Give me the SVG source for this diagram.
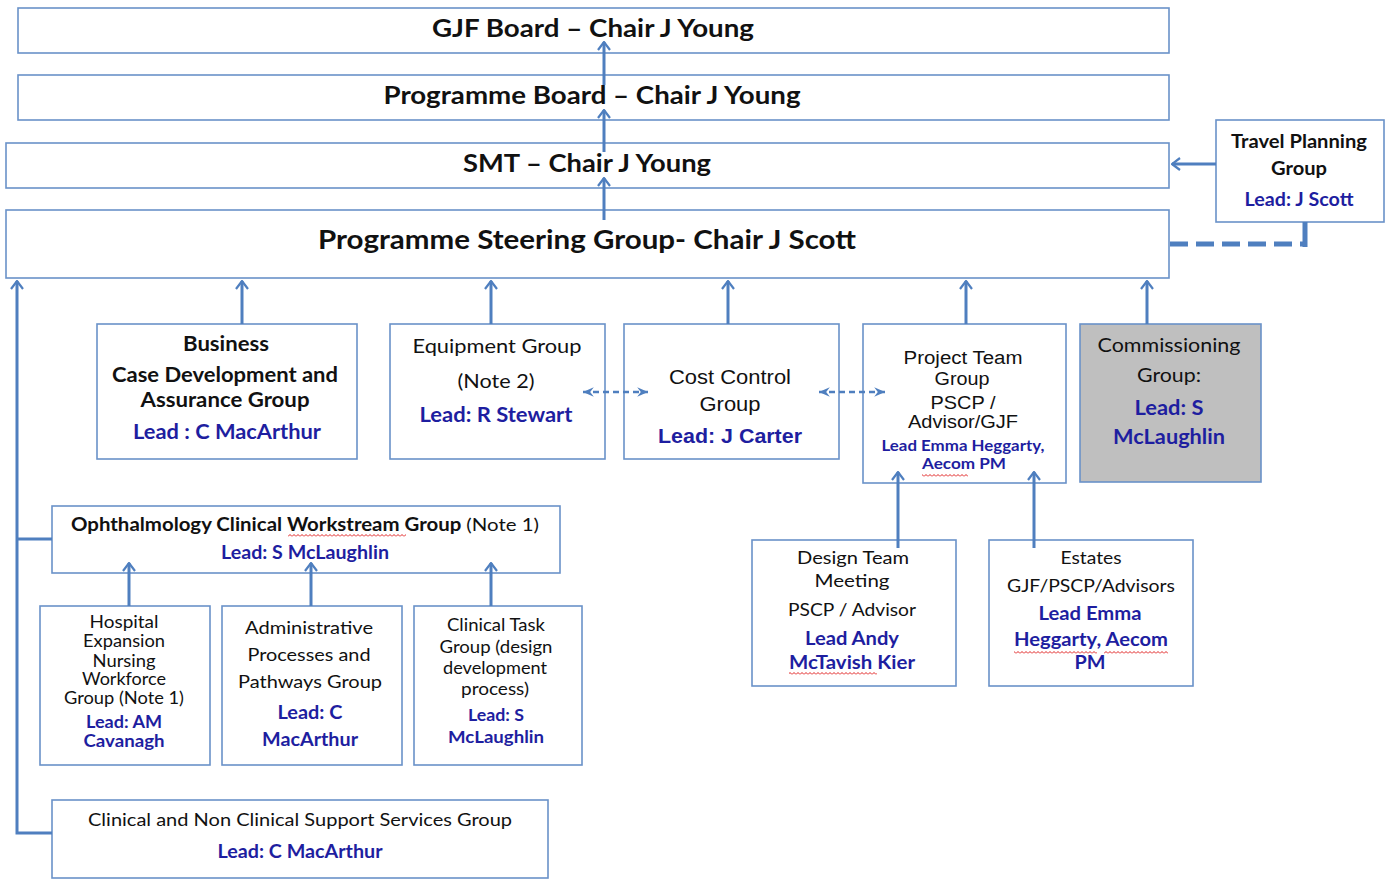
<svg xmlns="http://www.w3.org/2000/svg" width="1392" height="879" viewBox="0 0 1392 879">
<style>
.box{fill:#fff;stroke:#6a92c9;stroke-width:1.6}
.grey{fill:#bfbfbf;stroke:#6a92c9;stroke-width:1.6}
.con{fill:none;stroke:#4f7fbf;stroke-width:3}
.dash{fill:none;stroke:#4f7fbf;stroke-width:2.5;stroke-dasharray:6 4}
.thick{fill:none;stroke:#4f7fbf;stroke-width:5;stroke-dasharray:18 8}
text{dominant-baseline:central;text-anchor:middle;fill:#111}
.c{font-family:Lato,"Open Sans","Liberation Sans",sans-serif}
.a{font-family:"Liberation Sans",Arial,sans-serif}
.b{font-weight:bold}
.bl{fill:#1e1ea0;font-weight:bold}
</style>
<defs>
<marker id="arr" viewBox="0 0 10 14" refX="9" refY="7" markerWidth="10" markerHeight="14" markerUnits="userSpaceOnUse" orient="auto">
<path d="M1,1 L9,7 L1,13" fill="none" stroke="#4f7fbf" stroke-width="2.2"/>
</marker>
<marker id="sm" viewBox="0 0 10 10" refX="9" refY="5" markerWidth="12" markerHeight="12" markerUnits="userSpaceOnUse" orient="auto-start-reverse">
<path d="M0,1 L9,5 L0,9 L3,5 z" fill="#4f7fbf"/>
</marker>
<pattern id="wavy" width="4" height="3" patternUnits="userSpaceOnUse">
<polyline points="0,2.5 2,0.5 4,2.5" fill="none" stroke="#e02020" stroke-width="1"/>
</pattern>
</defs>

<g id="gjf-board">
<rect class="box" x="18" y="8" width="1151" height="45"/>
<text class="c b" x="593" y="27" font-size="24" textLength="322" lengthAdjust="spacingAndGlyphs">GJF  Board – Chair J Young</text>
</g>
<g id="programme-board">
<rect class="box" x="18" y="75" width="1151" height="45"/>
<text class="c b" x="592" y="94" font-size="24" textLength="417" lengthAdjust="spacingAndGlyphs">Programme Board – Chair J Young</text>
</g>
<g id="smt">
<rect class="box" x="6" y="143" width="1163" height="45"/>
<text class="c b" x="587" y="162" font-size="24" textLength="248" lengthAdjust="spacingAndGlyphs">SMT – Chair J Young</text>
</g>
<g id="steering-group">
<rect class="box" x="6" y="210" width="1163" height="68"/>
<text class="c b" x="587" y="238" font-size="27" textLength="538" lengthAdjust="spacingAndGlyphs">Programme Steering Group- Chair J Scott</text>
</g>
<g id="travel-planning">
<rect class="box" x="1216" y="120" width="168" height="102"/>
<text class="c b" x="1299" y="141" font-size="18" textLength="136" lengthAdjust="spacingAndGlyphs">Travel Planning</text>
<text class="c b" x="1299" y="168" font-size="18" textLength="56" lengthAdjust="spacingAndGlyphs">Group</text>
<text class="c bl" x="1299" y="199" font-size="18" textLength="109" lengthAdjust="spacingAndGlyphs">Lead: J Scott</text>
</g>

<g id="business-case">
<rect class="box" x="97" y="324" width="260" height="135"/>
<text class="c b" x="226" y="343" font-size="20" textLength="86" lengthAdjust="spacingAndGlyphs">Business</text>
<text class="c b" x="225" y="374" font-size="20" textLength="226" lengthAdjust="spacingAndGlyphs">Case Development and</text>
<text class="c b" x="225" y="399" font-size="20" textLength="169" lengthAdjust="spacingAndGlyphs">Assurance Group</text>
<text class="c bl" x="227" y="431" font-size="20" textLength="188" lengthAdjust="spacingAndGlyphs">Lead : C MacArthur</text>
</g>
<g id="equipment">
<rect class="box" x="390" y="324" width="215" height="135"/>
<text class="c" x="497" y="345" font-size="20" textLength="169" lengthAdjust="spacingAndGlyphs">Equipment  Group</text>
<text class="c" x="496" y="380" font-size="20" textLength="77" lengthAdjust="spacingAndGlyphs">(Note 2)</text>
<text class="c bl" x="496" y="414" font-size="20" textLength="153" lengthAdjust="spacingAndGlyphs">Lead: R Stewart</text>
</g>
<g id="cost-control">
<rect class="box" x="624" y="324" width="215" height="135"/>
<text class="a" x="730" y="377" font-size="20" textLength="122" lengthAdjust="spacingAndGlyphs">Cost Control</text>
<text class="a" x="730" y="404" font-size="20" textLength="61" lengthAdjust="spacingAndGlyphs">Group</text>
<text class="a bl" x="730" y="436" font-size="20" textLength="144" lengthAdjust="spacingAndGlyphs">Lead:  J Carter</text>
</g>
<g id="project-team">
<rect class="box" x="863" y="324" width="203" height="159"/>
<text class="a" x="963" y="358" font-size="18" textLength="119" lengthAdjust="spacingAndGlyphs">Project Team</text>
<text class="a" x="962" y="379" font-size="18" textLength="55" lengthAdjust="spacingAndGlyphs">Group</text>
<text class="a" x="963" y="402" font-size="19" textLength="65" lengthAdjust="spacingAndGlyphs">PSCP /</text>
<text class="a" x="963" y="421" font-size="19" textLength="110" lengthAdjust="spacingAndGlyphs">Advisor/GJF</text>
<text class="c bl" x="963" y="445" font-size="15" textLength="163" lengthAdjust="spacingAndGlyphs">Lead Emma Heggarty,</text>
<text class="c bl" x="964" y="463" font-size="15" textLength="84" lengthAdjust="spacingAndGlyphs">Aecom PM</text>
<rect x="922" y="474" width="46" height="3" fill="url(#wavy)"/>
</g>
<g id="commissioning">
<rect class="grey" x="1080" y="324" width="181" height="158"/>
<text class="c" x="1169" y="344" font-size="20" textLength="143" lengthAdjust="spacingAndGlyphs">Commissioning</text>
<text class="c" x="1169" y="374" font-size="20" textLength="64" lengthAdjust="spacingAndGlyphs">Group:</text>
<text class="c bl" x="1169" y="407" font-size="20" textLength="69" lengthAdjust="spacingAndGlyphs">Lead: S</text>
<text class="c bl" x="1169" y="436" font-size="20" textLength="112" lengthAdjust="spacingAndGlyphs">McLaughlin</text>
</g>

<g id="ophthalmology">
<rect class="box" x="52" y="506" width="508" height="67"/>
<text class="c" x="71" y="524" font-size="18" textLength="468" lengthAdjust="spacingAndGlyphs" style="text-anchor:start"><tspan font-weight="bold">Ophthalmology Clinical  Workstream Group </tspan>(Note 1)</text>
<rect x="288" y="534" width="118" height="3" fill="url(#wavy)"/>
<text class="c bl" x="305" y="552" font-size="18" textLength="168" lengthAdjust="spacingAndGlyphs">Lead: S McLaughlin</text>
</g>
<g id="hospital-expansion">
<rect class="box" x="40" y="606" width="170" height="159"/>
<text class="c" x="124" y="622" font-size="16.5" textLength="69" lengthAdjust="spacingAndGlyphs">Hospital</text>
<text class="c" x="124" y="641" font-size="16.5" textLength="82" lengthAdjust="spacingAndGlyphs">Expansion</text>
<text class="c" x="124" y="661" font-size="16.5" textLength="63" lengthAdjust="spacingAndGlyphs">Nursing</text>
<text class="c" x="124" y="679" font-size="16.5" textLength="84" lengthAdjust="spacingAndGlyphs">Workforce</text>
<text class="c" x="124" y="698" font-size="16.5" textLength="120" lengthAdjust="spacingAndGlyphs">Group (Note 1)</text>
<text class="c bl" x="124" y="722" font-size="16.5" textLength="76" lengthAdjust="spacingAndGlyphs">Lead: AM</text>
<text class="c bl" x="124" y="741" font-size="16.5" textLength="81" lengthAdjust="spacingAndGlyphs">Cavanagh</text>
</g>
<g id="administrative">
<rect class="box" x="222" y="606" width="180" height="159"/>
<text class="c" x="309" y="627" font-size="18" textLength="128" lengthAdjust="spacingAndGlyphs">Administrative</text>
<text class="c" x="309" y="654" font-size="18" textLength="123" lengthAdjust="spacingAndGlyphs">Processes and</text>
<text class="c" x="310" y="681" font-size="18" textLength="144" lengthAdjust="spacingAndGlyphs">Pathways Group</text>
<text class="c bl" x="310" y="712" font-size="18" textLength="65" lengthAdjust="spacingAndGlyphs">Lead: C</text>
<text class="c bl" x="310" y="739" font-size="18" textLength="96" lengthAdjust="spacingAndGlyphs">MacArthur</text>
</g>
<g id="clinical-task">
<rect class="box" x="414" y="606" width="168" height="159"/>
<text class="c" x="496" y="624" font-size="17" textLength="98" lengthAdjust="spacingAndGlyphs">Clinical Task</text>
<text class="c" x="496" y="646" font-size="17" textLength="113" lengthAdjust="spacingAndGlyphs">Group (design</text>
<text class="c" x="495" y="667" font-size="17" textLength="104" lengthAdjust="spacingAndGlyphs">development</text>
<text class="c" x="495" y="688" font-size="17" textLength="68" lengthAdjust="spacingAndGlyphs">process)</text>
<text class="c bl" x="496" y="714" font-size="17" textLength="56" lengthAdjust="spacingAndGlyphs">Lead: S</text>
<text class="c bl" x="496" y="736" font-size="17" textLength="96" lengthAdjust="spacingAndGlyphs">McLaughlin</text>
</g>
<g id="design-team">
<rect class="box" x="752" y="540" width="204" height="146"/>
<text class="c" x="853" y="557" font-size="18" textLength="112" lengthAdjust="spacingAndGlyphs">Design Team</text>
<text class="c" x="852" y="580" font-size="18" textLength="75" lengthAdjust="spacingAndGlyphs">Meeting</text>
<text class="c" x="852" y="609" font-size="18" textLength="128" lengthAdjust="spacingAndGlyphs">PSCP / Advisor</text>
<text class="c bl" x="852" y="638" font-size="18" textLength="94" lengthAdjust="spacingAndGlyphs">Lead Andy</text>
<text class="c bl" x="852" y="662" font-size="18" textLength="126" lengthAdjust="spacingAndGlyphs">McTavish  Kier</text>
<rect x="789" y="672" width="88" height="3" fill="url(#wavy)"/>
</g>
<g id="estates">
<rect class="box" x="989" y="540" width="204" height="146"/>
<text class="c" x="1091" y="557" font-size="18" textLength="61" lengthAdjust="spacingAndGlyphs">Estates</text>
<text class="c" x="1091" y="585" font-size="18" textLength="168" lengthAdjust="spacingAndGlyphs">GJF/PSCP/Advisors</text>
<text class="c bl" x="1090" y="613" font-size="18" textLength="103" lengthAdjust="spacingAndGlyphs">Lead Emma</text>
<text class="c bl" x="1091" y="639" font-size="18" textLength="154" lengthAdjust="spacingAndGlyphs">Heggarty, Aecom</text>
<text class="c bl" x="1090" y="662" font-size="18" textLength="31" lengthAdjust="spacingAndGlyphs">PM</text>
<rect x="1014" y="651" width="83" height="3" fill="url(#wavy)"/>
<rect x="1104" y="651" width="64" height="3" fill="url(#wavy)"/>
</g>
<g id="support-services">
<rect class="box" x="52" y="800" width="496" height="78"/>
<text class="c" x="300" y="819" font-size="18" textLength="424" lengthAdjust="spacingAndGlyphs">Clinical and Non Clinical Support Services Group</text>
<text class="c bl" x="300" y="851" font-size="18" textLength="165" lengthAdjust="spacingAndGlyphs">Lead: C MacArthur</text>
</g>

<g id="connectors">
<path class="con" d="M604,220 V178" marker-end="url(#arr)"/>
<path class="con" d="M604,152 V110" marker-end="url(#arr)"/>
<path class="con" d="M604,85 V42" marker-end="url(#arr)"/>
<path class="con" d="M1216,164 H1172" marker-end="url(#arr)"/>
<path class="thick" d="M1170,244 H1303"/>
<path class="con" d="M1305,222 V247" style="stroke-width:5"/>
<path class="con" d="M242,324 V281" marker-end="url(#arr)"/>
<path class="con" d="M491,324 V281" marker-end="url(#arr)"/>
<path class="con" d="M728,324 V281" marker-end="url(#arr)"/>
<path class="con" d="M966,324 V281" marker-end="url(#arr)"/>
<path class="con" d="M1147,324 V281" marker-end="url(#arr)"/>
<path class="con" d="M52,833 H17 V281" marker-end="url(#arr)"/>
<path class="con" d="M17,539 H52"/>
<path class="con" d="M129,606 V563" marker-end="url(#arr)"/>
<path class="con" d="M311,606 V563" marker-end="url(#arr)"/>
<path class="con" d="M491,606 V563" marker-end="url(#arr)"/>
<path class="con" d="M898,548 V472" marker-end="url(#arr)"/>
<path class="con" d="M1034,548 V472" marker-end="url(#arr)"/>
<path class="dash" d="M583,392 H648" marker-start="url(#sm)" marker-end="url(#sm)"/>
<path class="dash" d="M819,392 H885" marker-start="url(#sm)" marker-end="url(#sm)"/>
</g>
</svg>
